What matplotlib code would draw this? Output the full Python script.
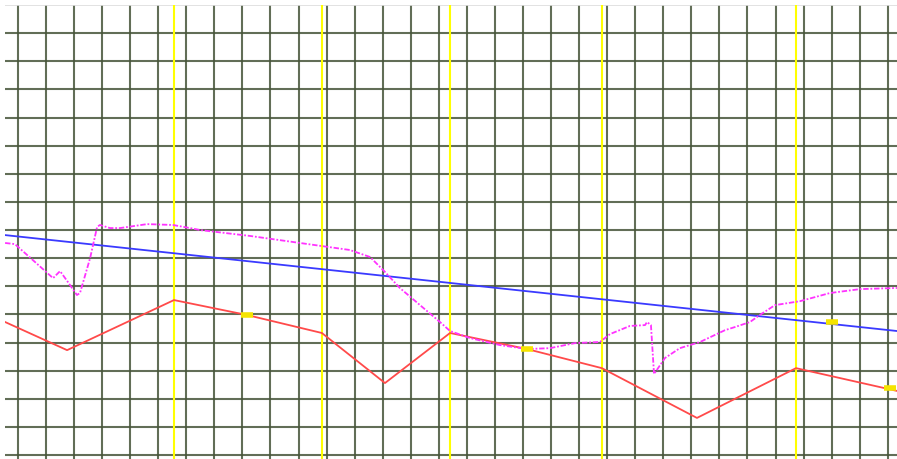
import matplotlib
matplotlib.use("Agg")
import matplotlib.pyplot as plt

# grid units: one cell = 1 unit on both axes
red_x = [-0.46, 1.75, 5.56, 8.16, 10.83, 13.08, 15.40, 18.14, 20.81, 24.20, 27.73, 31.33]
red_y = [4.73, 3.73, 5.51, 4.98, 4.34, 2.56, 4.34, 3.77, 3.09, 1.32, 3.09, 2.28]

blue_x = [-0.46, 31.33]
blue_y = [7.82, 4.41]

mag_x = [-0.46, -0.11, 0.61, 1.25, 1.50, 1.78, 2.10, 2.21, 2.57, 2.82, 2.92, 3.28,
         3.64, 4.60, 5.52, 6.13, 6.49, 8.27, 10.05, 11.83, 12.55, 13.08, 13.61,
         14.33, 15.04, 15.40, 16.11, 17.18, 18.14, 18.96, 19.85, 20.74, 21.10,
         21.81, 22.35, 22.42, 22.56, 22.67, 23.06, 23.59, 24.31, 25.20, 25.55,
         26.09, 26.44, 26.98, 27.87, 28.94, 30.01, 31.33]
mag_y = [7.54, 7.50, 6.86, 6.29, 6.54, 6.15, 5.69, 5.76, 7.00, 8.11, 8.18, 8.07,
         8.07, 8.21, 8.18, 8.07, 8.00, 7.79, 7.54, 7.29, 7.04, 6.51, 5.94,
         5.33, 4.73, 4.41, 4.16, 3.91, 3.77, 3.80, 3.98, 4.02, 4.30,
         4.59, 4.62, 4.73, 4.62, 2.88, 3.45, 3.80, 4.02, 4.44, 4.55,
         4.73, 4.98, 5.33, 5.47, 5.76, 5.90, 5.94]

# yellow markers on the lines
mark_x = [8.16, 18.14, 31.08, 29.01]
mark_y = [4.98, 3.77, 2.38, 4.73]

# yellow vertical lines at the red peaks
peaks = [5.56, 10.83, 15.40, 20.81, 27.73]

n_vert = 32
n_horiz = 16

fig = plt.figure(figsize=(8.97, 4.59), dpi=100)
ax = fig.add_axes([5 / 897, 0, 892 / 897, 454 / 459])
ax.set_xlim(-0.463, 31.33)
ax.set_ylim(-0.14, 16)
ax.axis('off')

for i in range(n_vert):
    ax.axvline(i, color='#47553a', lw=1.5, alpha=0.85, zorder=1)
for j in range(n_horiz):
    ax.axhline(j, color='#47553a', lw=1.5, alpha=0.85, zorder=1)
ax.axhline(n_horiz, color='#dddddd', lw=1.2, zorder=1)

for p in peaks:
    ax.axvline(p, color='#ffff00', lw=1.5, zorder=2)

ax.plot(blue_x, blue_y, color='#3a3aff', lw=1.3, zorder=3)
ax.plot(red_x, red_y, color='#ff4a4a', lw=1.3, zorder=3)
ax.plot(mag_x, mag_y, color='#ff33ff', lw=1.3, ls=(0, (3, 1, 1, 1)), zorder=4)
ax.plot(mark_x, mark_y, ls='none', marker='_', ms=8, mew=4, color='#f5e400', zorder=5)

fig.savefig('out.png', dpi=100)
